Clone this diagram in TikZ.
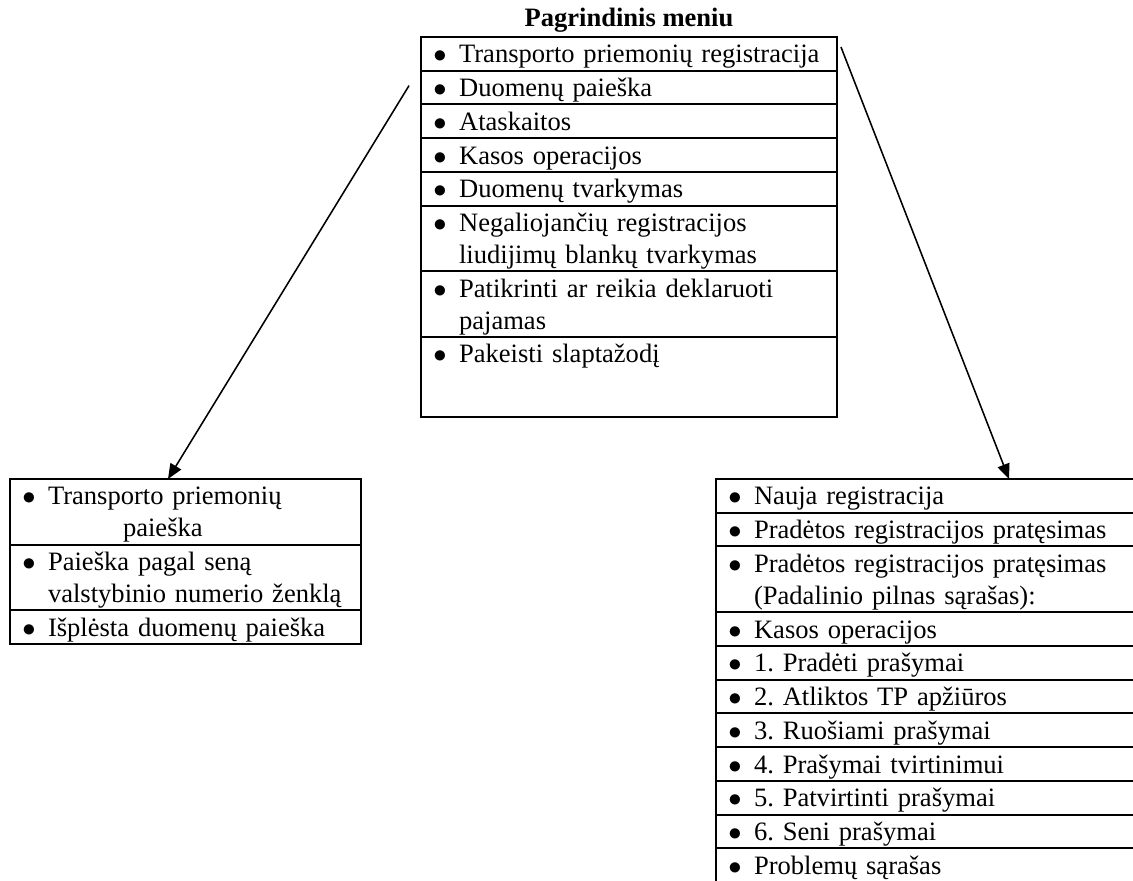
\documentclass[tikz,border=0pt]{standalone}
\usepackage{fontspec}
\setmainfont{Liberation Serif}
\usetikzlibrary{positioning,calc,arrows.meta}

\newcommand{\bul}{\makebox[12.2pt][l]{\hspace{0.6pt}$\bullet$}}
\newcommand{\cont}{\hspace*{12.2pt}}
\frenchspacing

\begin{document}
\begin{tikzpicture}[x=0.452pt,y=-0.452pt,>={Triangle[length=6.8pt,width=5.6pt]},
  every node/.style={font=\fontsize{12pt}{14.4pt}\selectfont},
  cell/.style={draw,line width=0.9pt,outer sep=0pt,inner xsep=5pt,inner ysep=1pt,
    align=left,text height=10.75pt,text depth=2.5pt},
  dbl/.style={text depth=16.9pt},
  mcell/.style={cell,text width=178pt},
  lcell/.style={cell,text width=148.7pt},
  rcell/.style={cell,text width=184.4pt}]
  \useasboundingbox (0,0) rectangle (1133,881);
  \clip (0,0) rectangle (1133,881);
  % pagrindinis meniu
  \node[mcell] (m1) at (629,37)[anchor=north]{\bul Transporto priemonių registracija};
  \node[mcell,below=0pt of m1] (m2) {\bul Duomenų paieška};
  \node[mcell,below=0pt of m2] (m3) {\bul Ataskaitos};
  \node[mcell,below=0pt of m3] (m4) {\bul Kasos operacijos};
  \node[mcell,below=0pt of m4] (m5) {\bul Duomenų tvarkymas};
  \node[mcell,dbl,below=0pt of m5] (m6) {\bul Negaliojančių registracijos\\\cont liudijimų blankų tvarkymas};
  \node[mcell,dbl,below=0pt of m6] (m7) {\bul Patikrinti ar reikia deklaruoti\\\cont pajamas};
  \node[mcell,text depth=23.4pt,below=0pt of m7] (m8) {\bul Pakeisti slaptažodį};
  \node[font=\fontsize{12pt}{14.4pt}\selectfont\bfseries,inner sep=0pt,above=1.9pt of m1] (title) {Pagrindinis meniu};
  % duomenu paieska
  \node[lcell,dbl] (l1) at (10,479)[anchor=north west]{\bul Transporto priemonių\\\hspace*{46.1pt}paieška};
  \node[lcell,dbl,below=0pt of l1] (l2) {\bul Paieška pagal seną\\\cont valstybinio numerio ženklą};
  \node[lcell,below=0pt of l2] (l3) {\bul Išplėsta duomenų paieška};
  % registracija
  \node[rcell] (r1) at (716,479)[anchor=north west]{\bul Nauja registracija};
  \node[rcell,below=0pt of r1] (r2) {\bul Pradėtos registracijos pratęsimas};
  \node[rcell,dbl,below=0pt of r2] (r3) {\bul Pradėtos registracijos pratęsimas\\\cont(Padalinio pilnas sąrašas):};
  \node[rcell,below=0pt of r3] (r4) {\bul Kasos operacijos};
  \node[rcell,below=0pt of r4] (r5) {\bul 1. Pradėti prašymai};
  \node[rcell,below=0pt of r5] (r6) {\bul 2. Atliktos TP apžiūros};
  \node[rcell,below=0pt of r6] (r7) {\bul 3. Ruošiami prašymai};
  \node[rcell,below=0pt of r7] (r8) {\bul 4. Prašymai tvirtinimui};
  \node[rcell,below=0pt of r8] (r9) {\bul 5. Patvirtinti prašymai};
  \node[rcell,below=0pt of r9] (r10) {\bul 6. Seni prašymai};
  \node[rcell,draw=none,below=0pt of r10] (r11) {\bul Problemų sąrašas};
  \draw[line width=0.9pt] (r11.north west)--(r11.south west);
  % rodykles
  \draw[->,line width=0.7pt] ($(m2.west)+(-12,-2)$)--($(l1.north west)+(158,0)$);
  \draw[->,line width=0.7pt] ($(m1.north east)+(4,10)$)--($(r1.north west)+(293,0)$);
\end{tikzpicture}
\end{document}
